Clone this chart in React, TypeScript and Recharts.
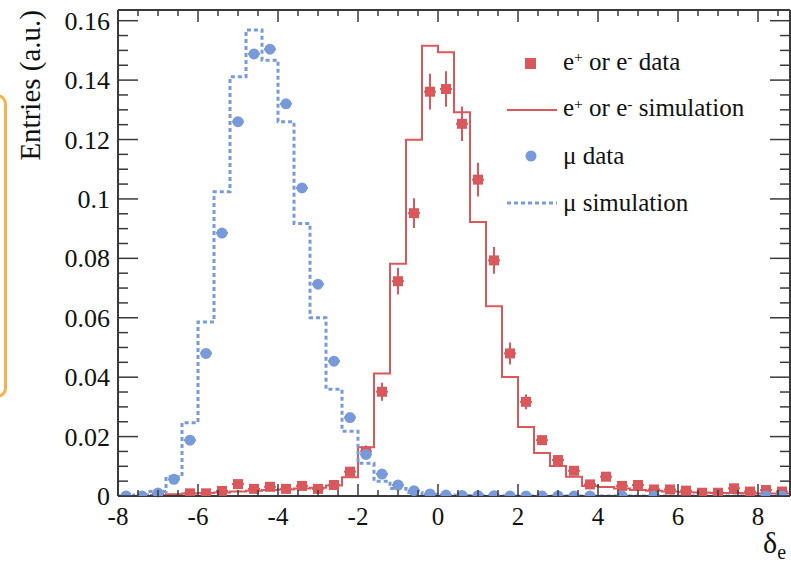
import React from "react";
import { ComposedChart, Line, Scatter, XAxis, YAxis, ErrorBar, Legend } from "recharts";

// bin centres of the 0.4-wide histogram bins
const binCenters = [
  -7.8, -7.4, -7.0, -6.6, -6.2, -5.8, -5.4, -5.0, -4.6, -4.2, -3.8, -3.4, -3.0, -2.6,
  -2.2, -1.8, -1.4, -1.0, -0.6, -0.2, 0.2, 0.6, 1.0, 1.4, 1.8, 2.2, 2.6, 3.0,
  3.4, 3.8, 4.2, 4.6, 5.0, 5.4, 5.8, 6.2, 6.6, 7.0, 7.4, 7.8, 8.2, 8.6,
];

const eData = [
  null, null, 0.0002, null, 0.0009, 0.0009, 0.0017, 0.004, 0.0024, 0.0031, 0.0024, 0.0034, 0.0024, 0.0037,
  0.0082, 0.015, 0.0351, 0.0723, 0.0952, 0.1361, 0.137, 0.1253, 0.1065, 0.0793, 0.048, 0.0317, 0.0188, 0.0121,
  0.0085, 0.0039, 0.0065, 0.0034, 0.0037, 0.0022, 0.0022, 0.0018, 0.0011, 0.0011, 0.0026, 0.0015, 0.002, 0.0015,
];

const eDataErr = [
  0, 0, 0.0006, 0, 0.0007, 0.0007, 0.0008, 0.0009, 0.0008, 0.0008, 0.0008, 0.0008, 0.0008, 0.0009,
  0.0015, 0.002, 0.003, 0.0045, 0.005, 0.006, 0.006, 0.0058, 0.0057, 0.0045, 0.0037, 0.0025, 0.0015, 0.0012,
  0.001, 0.0008, 0.0009, 0.0008, 0.0008, 0.0007, 0.0007, 0.0007, 0.0006, 0.0006, 0.0008, 0.0007, 0.0007, 0.0007,
];

const eSim = [
  null, null, 0.0003, 0.0006, 0.0008, 0.001, 0.0012, 0.0015, 0.0018, 0.002, 0.0022, 0.0025, 0.0028, 0.0035,
  0.0063, 0.0164, 0.0412, 0.0782, 0.1199, 0.1516, 0.1494, 0.1292, 0.0922, 0.0639, 0.0401, 0.0232, 0.0145, 0.0101,
  0.0065, 0.0034, 0.003, 0.0025, 0.002, 0.0018, 0.0015, 0.0013, 0.0012, 0.001, 0.001, 0.0009, 0.0008, 0.0008,
];

const muData = [
  0, 0, 0.001, 0.0056, 0.0188, 0.048, 0.0885, 0.126, 0.1488, 0.1504, 0.132, 0.1037, 0.0713, 0.0454,
  0.0264, 0.014, 0.0074, 0.0037, 0.0018, 0.0007, 0.0003, 0.0002, 0.0001, 0.0001, 0, 0, 0, 0,
  0, 0, null, 0, null, 0, null, null, null, null, null, null, 0, 0,
];

const muSim = [
  0, 0.0003, 0.0015, 0.0065, 0.0247, 0.0586, 0.1024, 0.1411, 0.1569, 0.1467, 0.126, 0.0917, 0.06, 0.0359,
  0.0218, 0.011, 0.005, 0.0025, 0.0012, 0.0006, 0.0003, 0.0002, 0.0001, 0.0001, 0, 0, 0, 0,
  0, 0, 0, 0, 0, 0, 0, 0, 0, 0, 0, 0, 0, 0,
];

const xTicks = [
  -8, -7.5, -7, -6.5, -6, -5.5, -5, -4.5, -4, -3.5, -3, -2.5, -2, -1.5, -1, -0.5, 0,
  0.5, 1, 1.5, 2, 2.5, 3, 3.5, 4, 4.5, 5, 5.5, 6, 6.5, 7, 7.5, 8, 8.5,
];
const yTicks = [
  0, 0.005, 0.01, 0.015, 0.02, 0.025, 0.03, 0.035, 0.04, 0.045, 0.05, 0.055, 0.06, 0.065, 0.07, 0.075,
  0.08, 0.085, 0.09, 0.095, 0.1, 0.105, 0.11, 0.115, 0.12, 0.125, 0.13, 0.135, 0.14, 0.145, 0.15, 0.155, 0.16,
];

const RED = "#d8585c";
const BLUE = "#789ad9";
const FRAME = "#3a3a3a";
const FONT = "Liberation Serif, Times New Roman, Times, serif";
const HALF = 0.2;

const stepData = binCenters.map((c, i) => ({ x: c - HALF, eSim: eSim[i], muSim: muSim[i] }));
stepData.push({
  x: binCenters[binCenters.length - 1] + HALF,
  eSim: eSim[eSim.length - 1],
  muSim: muSim[muSim.length - 1],
});

const ePoints = binCenters
  .map((c, i) => ({ x: c, y: eData[i], ey: eDataErr[i], ex: 0.15 }))
  .filter((p) => p.y !== null);
const muPoints = binCenters
  .map((c, i) => ({ x: c, y: muData[i], ex: 0.15 }))
  .filter((p) => p.y !== null);

const isMajorX = (v: number) => Math.abs(v / 2 - Math.round(v / 2)) < 1e-6;
const isMajorY = (v: number) => Math.abs(v / 0.02 - Math.round(v / 0.02)) < 1e-6;

const BottomTick = ({ x, y, payload }: any) => {
  const major = isMajorX(payload.value);
  return (
    <g>
      <line x1={x} x2={x} y1={y} y2={y - (major ? 12 : 6)} stroke={FRAME} strokeWidth={1.5} />
      {major && (
        <text x={x} y={y + 29} textAnchor="middle" fontSize={25} fontFamily={FONT} fill="#111">
          {payload.value}
        </text>
      )}
    </g>
  );
};

const TopTick = ({ x, y, payload }: any) => {
  const major = isMajorX(payload.value);
  return <line x1={x} x2={x} y1={y} y2={y + (major ? 12 : 6)} stroke={FRAME} strokeWidth={1.5} />;
};

const LeftTick = ({ x, y, payload }: any) => {
  const major = isMajorY(payload.value);
  return (
    <g>
      <line x1={x} x2={x + (major ? 20 : 10)} y1={y} y2={y} stroke={FRAME} strokeWidth={1.5} />
      {major && (
        <text x={x - 8} y={y} dy="0.35em" textAnchor="end" fontSize={26} fontFamily={FONT} fill="#111">
          {payload.value}
        </text>
      )}
    </g>
  );
};

const RightTick = ({ x, y, payload }: any) => {
  const major = isMajorY(payload.value);
  return <line x1={x} x2={x - (major ? 20 : 10)} y1={y} y2={y} stroke={FRAME} strokeWidth={1.5} />;
};

const sup = { fontSize: "0.62em", position: "relative" as const, top: "-0.5em" };

const LegendBox = () => {
  const rows = [
    {
      marker: <rect x={20} y={9} width={11} height={11} fill={RED} />,
      label: (
        <>e<span style={sup}>+</span> or e<span style={sup}>-</span> data</>
      ),
    },
    {
      marker: <line x1={2} x2={52} y1={14} y2={14} stroke={RED} strokeWidth={2} />,
      label: (
        <>e<span style={sup}>+</span> or e<span style={sup}>-</span> simulation</>
      ),
    },
    { marker: <circle cx={26} cy={14} r={5.5} fill={BLUE} />, label: <>μ data</> },
    {
      marker: <line x1={2} x2={52} y1={14} y2={14} stroke={BLUE} strokeWidth={3} strokeDasharray="4 3" />,
      label: <>μ simulation</>,
    },
  ];
  return (
    <div style={{ fontFamily: FONT, fontSize: 25, color: "#111" }}>
      {rows.map((r, i) => (
        <div key={i} style={{ display: "flex", alignItems: "center", height: 46.5 }}>
          <svg width={58} height={28} style={{ flex: "none" }}>
            {r.marker}
          </svg>
          <span style={{ whiteSpace: "nowrap", lineHeight: "28px" }}>{r.label}</span>
        </div>
      ))}
    </div>
  );
};

export default function App() {
  return (
    <div style={{ position: "absolute", left: 0, top: 0, width: 791, height: 576, background: "#fff" }}>
      <div
        style={{
          position: "absolute",
          left: -30,
          top: 94,
          width: 31,
          height: 298,
          border: "3px solid #f7b04a",
          borderRadius: 10,
        }}
      />
      <ComposedChart width={791} height={576} margin={{ top: 9, right: 0, bottom: 0, left: 0 }}>
        <XAxis
          xAxisId="b"
          type="number"
          dataKey="x"
          domain={[-8, 8.8]}
          ticks={xTicks}
          interval={0}
          allowDataOverflow
          height={80}
          tickSize={0}
          tickMargin={0}
          tickLine={false}
          tick={BottomTick}
          axisLine={{ stroke: FRAME, strokeWidth: 2 }}
          label={() => (
            <text x={763} y={553} fontSize={30} fontFamily={FONT} fill="#111">
              δ<tspan fontSize={20} dy={6}>e</tspan>
            </text>
          )}
        />
        <XAxis
          xAxisId="t"
          orientation="top"
          type="number"
          dataKey="x"
          domain={[-8, 8.8]}
          ticks={xTicks}
          interval={0}
          allowDataOverflow
          height={1}
          tickSize={0}
          tickMargin={0}
          tickLine={false}
          tick={TopTick}
          axisLine={{ stroke: FRAME, strokeWidth: 2 }}
        />
        <YAxis
          yAxisId="l"
          type="number"
          domain={[0, 0.1636]}
          ticks={yTicks}
          interval={0}
          allowDataOverflow
          width={118}
          tickSize={0}
          tickMargin={0}
          tickLine={false}
          tick={LeftTick}
          axisLine={{ stroke: FRAME, strokeWidth: 2 }}
          label={() => (
            <text transform="rotate(-90)" x={-10} y={40} textAnchor="end" fontSize={29} fontFamily={FONT} fill="#111">
              Entries (a.u.)
            </text>
          )}
        />
        <YAxis
          yAxisId="r"
          orientation="right"
          type="number"
          domain={[0, 0.1636]}
          ticks={yTicks}
          interval={0}
          allowDataOverflow
          width={1}
          tickSize={0}
          tickMargin={0}
          tickLine={false}
          tick={RightTick}
          axisLine={{ stroke: FRAME, strokeWidth: 2 }}
        />
        <Legend
          layout="vertical"
          align="center"
          verticalAlign="middle"
          content={LegendBox}
          wrapperStyle={{ left: 505, top: 40, width: 290, height: 190 }}
        />
        <Line
          xAxisId="b"
          yAxisId="l"
          data={stepData}
          dataKey="eSim"
          type="stepAfter"
          stroke={RED}
          strokeWidth={2}
          dot={false}
          activeDot={false}
          isAnimationActive={false}
        />
        <Line
          xAxisId="b"
          yAxisId="l"
          data={stepData}
          dataKey="muSim"
          type="stepAfter"
          stroke={BLUE}
          strokeWidth={3}
          strokeDasharray="4 3"
          dot={false}
          activeDot={false}
          isAnimationActive={false}
        />
        <Scatter
          xAxisId="b"
          yAxisId="l"
          data={ePoints}
          dataKey="y"
          fill={RED}
          isAnimationActive={false}
          shape={(p: any) => <rect x={p.cx - 5} y={p.cy - 5} width={10} height={10} fill={RED} />}
        >
          <ErrorBar dataKey="ey" direction="y" width={0} stroke={RED} strokeWidth={2} />
          <ErrorBar dataKey="ex" direction="x" width={0} stroke={RED} strokeWidth={2} />
        </Scatter>
        <Scatter
          xAxisId="b"
          yAxisId="l"
          data={muPoints}
          dataKey="y"
          fill={BLUE}
          isAnimationActive={false}
          shape={(p: any) => <circle cx={p.cx} cy={p.cy} r={5.5} fill={BLUE} />}
        >
          <ErrorBar dataKey="ex" direction="x" width={0} stroke={BLUE} strokeWidth={2} />
        </Scatter>
      </ComposedChart>
    </div>
  );
}
